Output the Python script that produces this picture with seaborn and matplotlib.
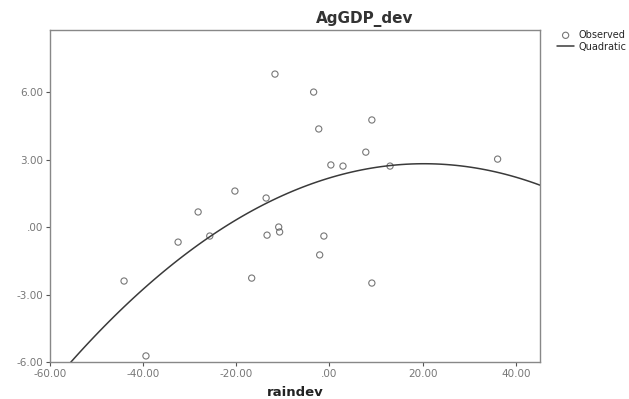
import numpy as np
import pandas as pd
import matplotlib
matplotlib.use("Agg")
import matplotlib.pyplot as plt
import seaborn as sns

## Dados (raindev x AgGDP_dev)
raindev = [-11.7, -3.4, -2.3, -20.3, -13.6, 9.1, 7.8, 0.3, 2.9, 13.0, 36.1,
           -28.2, -32.5, -25.7, -44.1, -39.4, -16.7, -13.4, -10.9, -10.7,
           -2.1, -1.2, 9.1]
agdp_dev = [6.80, 6.00, 4.36, 1.60, 1.29, 4.76, 3.33, 2.76, 2.71, 2.71, 3.02,
            0.67, -0.67, -0.40, -2.40, -5.73, -2.27, -0.36, 0.00, -0.22,
            -1.24, -0.40, -2.49]
xticks = [-60, -40, -20, 0, 20, 40]
xlabels = ['-60.00', '-40.00', '-20.00', '.00', '20.00', '40.00']
yticks = [-6, -3, 0, 3, 6]
ylabels = ['-6.00', '-3.00', '.00', '3.00', '6.00']

df = pd.DataFrame({'raindev': raindev, 'AgGDP_dev': agdp_dev})

sns.set_style('white')
plt.rcParams['font.family'] = ['DejaVu Sans']

fig = plt.figure(figsize=(6.29, 3.99), dpi=100)
ax = fig.add_axes([50/629, 1 - 362/399, 490/629, 332/399])

cinza = '#555555'
ax.set_xlim(-60, 45.2)
ax.set_ylim(-6, 8.76)
sns.regplot(data=df, x='raindev', y='AgGDP_dev', order=2, ci=None, truncate=False,
            ax=ax, label='Observed',
            scatter_kws=dict(marker='o', s=20, facecolors='none', edgecolors=cinza,
                             linewidths=0.8),
            line_kws=dict(color='#3a3a3a', lw=1.1, label='Quadratic'))
ax.set_xlim(-60, 45.2)
ax.set_ylim(-6, 8.76)

ax.set_xticks(xticks)
ax.set_xticklabels(xlabels)
ax.set_yticks(yticks)
ax.set_yticklabels(ylabels)
ax.tick_params(axis='both', direction='out', length=3, width=0.8, color=cinza,
               labelsize=7.5, labelcolor='#777777', pad=2,
               bottom=True, left=True)
for s in ax.spines.values():
    s.set_color('#888888')
    s.set_linewidth(1.0)

ax.set_xlabel('raindev', fontsize=9.5, fontweight='bold', color='#222222', labelpad=5)
ax.set_ylabel('')
fig.text(365/629, 1 - 19/399, 'AgGDP_dev', ha='center', va='center',
         fontsize=11, fontweight='bold', color='#333333')

handles, labels = ax.get_legend_handles_labels()
ax.legend(handles, labels, loc='upper left', bbox_to_anchor=(552/629, 1 - 25/399),
          bbox_transform=fig.transFigure, frameon=False, fontsize=7,
          handlelength=1.8, handletextpad=0.4, labelspacing=0.2, borderpad=0)

fig.savefig('out.png', dpi=100)
